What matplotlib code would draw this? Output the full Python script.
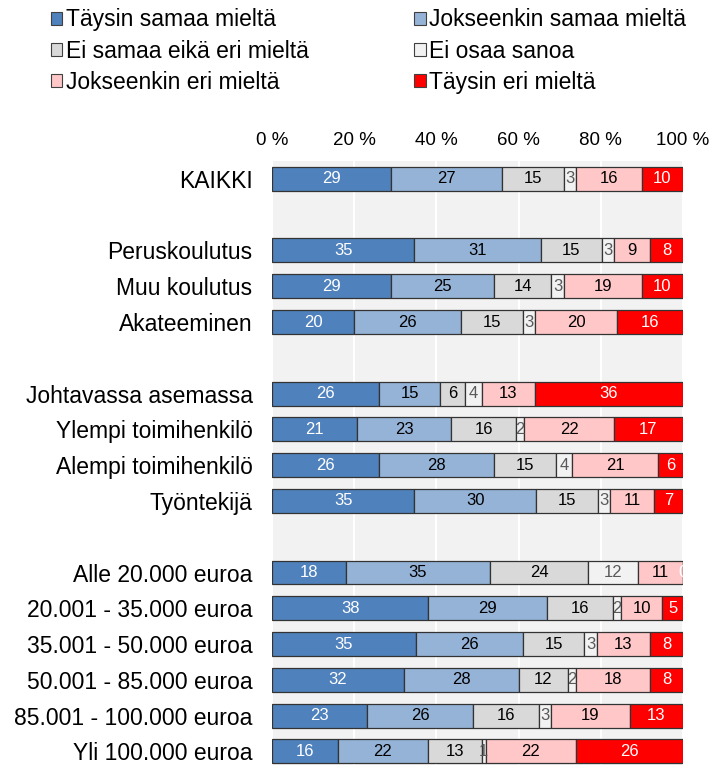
import numpy as np
import matplotlib.pyplot as plt
from matplotlib.patches import Patch

plt.rcParams['font.family'] = ['Liberation Sans', 'DejaVu Sans']

# rows of the chart, None = empty spacer row
rows = ['KAIKKI', None,
        'Peruskoulutus', 'Muu koulutus', 'Akateeminen', None,
        'Johtavassa asemassa', 'Ylempi toimihenkilö', 'Alempi toimihenkilö', 'Työntekijä', None,
        'Alle 20.000 euroa', '20.001 - 35.000 euroa', '35.001 - 50.000 euroa',
        '50.001 - 85.000 euroa', '85.001 - 100.000 euroa', 'Yli 100.000 euroa']

series_names = ['Täysin samaa mieltä', 'Jokseenkin samaa mieltä', 'Ei samaa eikä eri mieltä',
                'Ei osaa sanoa', 'Jokseenkin eri mieltä', 'Täysin eri mieltä']

taysin_samaa = [29, 35, 29, 20, 26, 21, 26, 35, 18, 38, 35, 32, 23, 16]
jokseenkin_samaa = [27, 31, 25, 26, 15, 23, 28, 30, 35, 29, 26, 28, 26, 22]
ei_samaa_eika = [15, 15, 14, 15, 6, 16, 15, 15, 24, 16, 15, 12, 16, 13]
ei_osaa = [3, 3, 3, 3, 4, 2, 4, 3, 12, 2, 3, 2, 3, 1]
jokseenkin_eri = [16, 9, 19, 20, 13, 22, 21, 11, 11, 10, 13, 18, 19, 22]
taysin_eri = [10, 8, 10, 16, 36, 17, 6, 7, 0, 5, 8, 8, 13, 26]

colors = ['#4f81bd', '#95b3d7', '#d9d9d9', '#f2f2f2', '#ffc7c7', '#ff0000']
text_colors = ['white', 'black', 'black', '#595959', 'black', 'white']

data = np.array([taysin_samaa, jokseenkin_samaa, ei_samaa_eika, ei_osaa, jokseenkin_eri, taysin_eri], dtype=float)
widths = data / data.sum(axis=0) * 100  # bars always fill to 100 %

ypos = [i for i, r in enumerate(rows) if r is not None]
labels = [r for r in rows if r is not None]

fig = plt.figure(figsize=(7.15, 7.65), dpi=100)
ax = fig.add_axes([0.3804, 0.0, 0.5748, 0.7895])
ax.set_facecolor('#f2f2f2')

left = np.zeros(len(ypos))
for k in range(len(series_names)):
    ax.barh(ypos, widths[k], left=left, height=0.67, color=colors[k],
            edgecolor='#333333', linewidth=0.9, zorder=3)
    for y, l, w, v in zip(ypos, left, widths[k], data[k]):
        ax.text(l + w / 2, y, '%d' % v, ha='center', va='center',
                fontsize=12, color=text_colors[k], zorder=4, clip_on=False)
    left += widths[k]

ax.set_xlim(0, 100)
ax.set_ylim(16.38, -0.5)
ax.set_xticks(np.arange(0, 101, 20))
ax.set_xticklabels(['%d %%' % t for t in range(0, 101, 20)])
ax.xaxis.tick_top()
ax.tick_params(axis='x', length=0, pad=9, labelsize=13.5)
ax.set_yticks(ypos)
ax.set_yticklabels(labels)
ax.tick_params(axis='y', length=0, pad=14, labelsize=16.5)
ax.grid(axis='x', color='white', linewidth=1.5, zorder=0)
ax.set_axisbelow(True)
for s in ax.spines.values():
    s.set_visible(False)

handles = [Patch(facecolor=c, edgecolor='#404040', linewidth=0.8) for c in colors]
order = [0, 2, 4, 1, 3, 5]
fig.legend([handles[i] for i in order], [series_names[i] for i in order],
           ncol=2, loc='upper left', bbox_to_anchor=(0.068, 0.992), frameon=False,
           fontsize=16.5, handlelength=0.5, handleheight=0.5, handletextpad=0.15,
           labelspacing=0.36, columnspacing=4.6, borderpad=0.1, borderaxespad=0)

fig.savefig('out.png', dpi=100)
